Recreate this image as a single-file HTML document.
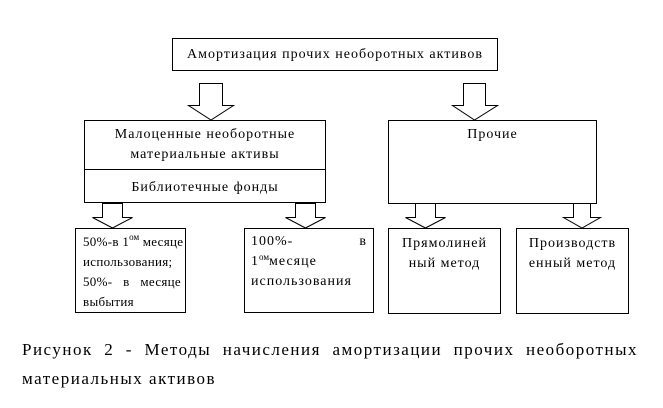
<!DOCTYPE html>
<html><head><meta charset="utf-8"><style>
body{margin:0;width:663px;height:408px;background:#fff;position:relative;overflow:hidden;font-family:"Liberation Serif",serif;color:#000}
.b{position:absolute;border:1px solid #000;box-sizing:border-box;font-size:14px;letter-spacing:1px;line-height:20px}
.c{text-align:center}
.j{text-align:justify;text-align-last:justify;padding:0 6px;white-space:nowrap}
.j span{display:block;text-align-last:left}
sup{font-size:9px;vertical-align:top;line-height:0;position:relative;top:5px;letter-spacing:0}
svg{position:absolute;left:0;top:0}
.cap{position:absolute;left:22px;width:616px;font-size:17px;letter-spacing:1.5px;text-align:justify;text-align-last:justify}
</style></head><body>
<svg width="663" height="408" fill="#fff" stroke="#000" stroke-width="1">
<polygon points="199.5,83.5 222.5,83.5 222.5,105.5 233.5,105.5 211,120 188.5,105.5 199.5,105.5"/>
<polygon points="463.5,83.5 485.5,83.5 485.5,105.5 497.5,105.5 474.5,120 452.5,105.5 463.5,105.5"/>
<polygon points="102.5,203.5 122.5,203.5 122.5,217.5 132.5,217.5 112.5,228 92.5,217.5 102.5,217.5"/>
<polygon points="295.5,203.5 315.5,203.5 315.5,217.5 325.5,217.5 305.5,228 285.5,217.5 295.5,217.5"/>
<polygon points="415.5,203.5 435.5,203.5 435.5,217.5 445.5,217.5 425.5,228 405.5,217.5 415.5,217.5"/>
<polygon points="573.5,203.5 590.5,203.5 590.5,217.5 600.5,217.5 582,228 563.5,217.5 573.5,217.5"/>
</svg>
<div class="b c" style="left:172px;top:38px;width:326px;height:33px;line-height:31px">Амортизация прочих необоротных активов</div>
<div class="b c" style="left:84px;top:120px;width:242px;height:83px;padding-top:4px">Малоценные необоротные<br>материальные активы
<div style="position:absolute;left:0;right:0;top:48px;border-top:1px solid #000;line-height:36px">Библиотечные фонды</div></div>
<div class="b c" style="left:388px;top:120px;width:209px;height:84px;padding-top:4px">Прочие</div>
<div class="b j" style="left:75px;top:228px;width:111px;height:85px;padding:3px 4px 0 7px;font-size:13px;letter-spacing:0.3px">50%-в 1<sup>ом</sup> месяце<br><span>использования;</span>50%- в месяце<br><span>выбытия</span></div>
<div class="b j" style="left:244px;top:228px;width:130px;height:85px;padding-top:3px">100%- в<br><span>1<sup>ом</sup>месяце<br>использования</span></div>
<div class="b c" style="left:388px;top:228px;width:113px;height:86px;padding-top:5px">Прямолиней<br>ный метод</div>
<div class="b c" style="left:516px;top:228px;width:113px;height:86px;padding-top:5px">Производств<br>енный метод</div>
<div class="cap" style="top:340px">Рисунок 2 - Методы начисления амортизации прочих необоротных</div>
<div class="cap" style="top:369px;text-align-last:left">материальных активов</div>
</body></html>
